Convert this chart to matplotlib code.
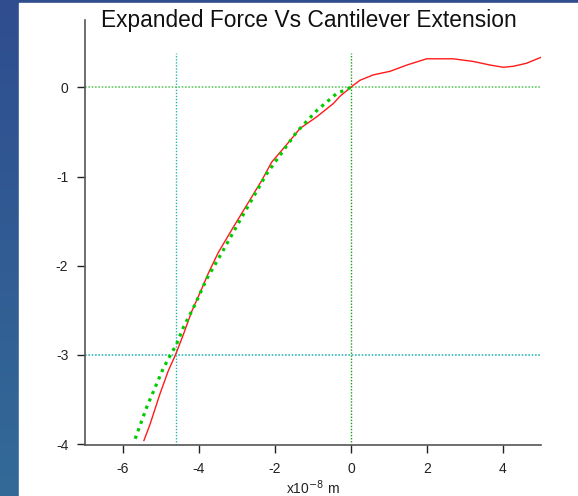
import numpy as np
import matplotlib
matplotlib.use("Agg")
import matplotlib.pyplot as plt
from matplotlib.colors import LinearSegmentedColormap

plt.rcParams['font.family'] = ['Liberation Sans', 'DejaVu Sans']

# Measured force curve (red)
data_x = [-5.45, -5.29, -5.03, -4.81, -4.61, -4.41, -4.19, -3.97, -3.75, -3.49,
          -3.10, -2.35, -2.09, -1.61, -1.34, -0.90, -0.46, -0.29, 0.02, 0.24,
          0.59, 1.03, 1.47, 1.99, 2.69, 3.22, 3.66, 4.01, 4.27, 4.62, 5.02]
data_y = [-3.96, -3.78, -3.44, -3.18, -2.99, -2.77, -2.51, -2.30, -2.08, -1.85,
          -1.57, -1.045, -0.84, -0.60, -0.46, -0.33, -0.18, -0.10, 0.01, 0.08,
          0.14, 0.18, 0.25, 0.32, 0.32, 0.29, 0.25, 0.225, 0.236, 0.27, 0.34]

# Fit curve (green dotted)
fit_x = [-5.68, -5.55, -5.38, -5.16, -4.94, -4.75, -4.59, -4.41, -4.11, -3.80,
         -3.42, -2.92, -2.22, -1.43, -0.90, -0.38, 0.0]
fit_y = [-3.94, -3.79, -3.59, -3.37, -3.15, -3.00, -2.88, -2.69, -2.44, -2.15,
         -1.87, -1.49, -0.97, -0.50, -0.26, -0.07, 0.0]

# Reference markers
vline_cyan = -4.6
vline_green = 0.0
hline_green = 0.0
hline_cyan = -3.0

x_ticks = [-6, -4, -2, 0, 2, 4]
y_ticks = [0, -1, -2, -3, -4]

W, H = 578, 496
fig = plt.figure(figsize=(W / 100, H / 100), dpi=100)

# background: blue frame on left/top, white panel
bg = fig.add_axes([0, 0, 1, 1])
grad = np.linspace(0, 1, 256).reshape(-1, 1)
cmap = LinearSegmentedColormap.from_list("b", ["#2f4d8f", "#336a98"])
bg.imshow(grad, aspect='auto', cmap=cmap, extent=[0, 1, 0, 1], origin='upper')
bg.add_patch(plt.Rectangle((19 / W, 0), 1 - 19 / W, 1 - 3 / H, color='white',
                           transform=bg.transAxes, zorder=2))
bg.set_xlim(0, 1)
bg.set_ylim(0, 1)
bg.axis('off')

ax = fig.add_axes([85 / W, 1 - 445 / H, (541 - 85) / W, (445 - 20) / H])
ax.set_facecolor('none')
ax.set_xlim(-7.0, 5.0)
ax.set_ylim(-4.01, 0.755)

ax.plot([vline_cyan, vline_cyan], [-4.01, 0.39], color='#22b5b5', lw=1,
        linestyle=(0, (1, 1.2)))
ax.plot([vline_green, vline_green], [-4.01, 0.39], color='#11a011', lw=1,
        linestyle=(0, (1, 1.2)))
ax.axhline(hline_green, color='#66cc66', lw=1.2, linestyle=(0, (1, 1)))
ax.axhline(hline_cyan, color='#33bbbb', lw=1.2, linestyle=(0, (1, 1)))

ax.plot(data_x, data_y, color='#ff1a1a', lw=1.0)
ax.plot(fit_x, fit_y, color='#00cc00', lw=2.3, linestyle=(0, (1, 1.5)),
        dash_capstyle='butt')

for s in ['top', 'right']:
    ax.spines[s].set_visible(False)
for s in ['left', 'bottom']:
    ax.spines[s].set_color('#555555')
    ax.spines[s].set_linewidth(1.2)

ax.set_xticks(x_ticks)
ax.set_xticklabels([str(v) for v in x_ticks])
ax.set_yticks(y_ticks)
ax.set_yticklabels([str(v) for v in y_ticks])
ax.tick_params(direction='out', length=6, width=1, colors='#222222',
               labelsize=10, pad=6)

ax.set_xlabel('x10$^{-8}$ m', fontsize=10, color='#222222', labelpad=2)
fig.text(309 / W, 1 - 20 / H, 'Expanded Force Vs Cantilever Extension',
         ha='center', va='center', fontsize=16.4, color='#111111')

fig.savefig('out.png', dpi=100)
